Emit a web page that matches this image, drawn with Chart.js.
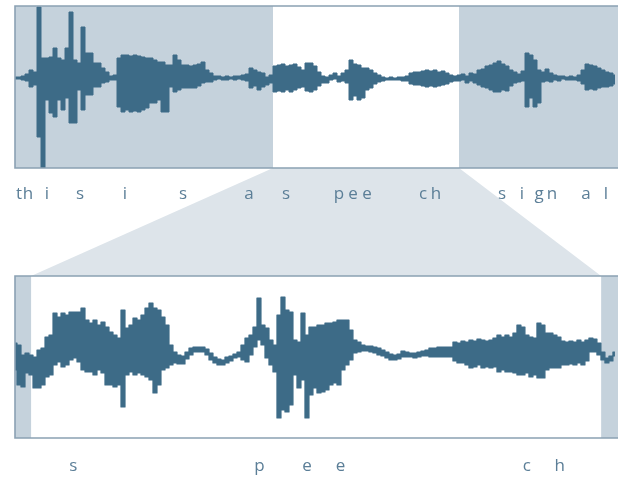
<!DOCTYPE html>
<html><head><meta charset="utf-8">
<script src="https://cdn.jsdelivr.net/npm/chart.js@4.4.1/dist/chart.umd.min.js"></script>
<style>
html,body{margin:0;padding:0;background:#fff;width:618px;height:477px;overflow:hidden;}
#wrapTop{position:absolute;left:0;top:0;width:618px;height:230px;z-index:2;}
#wrapBot{position:absolute;left:0;top:160px;width:618px;height:317px;z-index:1;}
canvas{display:block;}
</style></head><body>
<div id="wrapBot"><canvas id="bot" width="618" height="317"></canvas></div>
<div id="wrapTop"><canvas id="top" width="618" height="230"></canvas></div>
<script>
// ---- time axis (ms) ----
const TOP_START_MS = 0, TOP_END_MS = 2412, TOP_STEP_MS = 16;
const BOT_START_MS = 1011, BOT_END_MS = 1798, BOT_STEP_MS = 5.22;
const zoomWindow = [1032, 1776];

// ---- full utterance: envelope (upper / lower peak) per sample ----
const topHi = [1,1,2,4,8,6,71,20,20,21,
  30,20,18,30,66,18,15,51,25,25,
  15,15,10,6,2,3,20,23,23,22,
  23,22,21,20,20,18,16,16,13,13,
  23,18,13,13,12,13,14,16,8,5,
  2,2,1,2,1,2,2,3,4,10,
  8,6,5,1,3,12,13,14,12,13,
  14,11,8,15,15,12,6,2,1,3,
  5,2,5,8,18,14,13,10,10,8,
  5,3,1,0,1,0,1,1,2,5,
  6,6,7,8,7,8,6,7,5,3,
  2,3,4,2,5,4,8,9,12,13,
  15,17,14,12,8,6,4,7,25,23,
  18,8,6,9,5,3,2,2,1,2,
  1,3,8,14,13,12,10,8,6,5,
  3];
const topLo = [-1,-1,-2,-3,-9,-7,-59,-90,-22,-35,
  -39,-22,-32,-20,-45,-45,-12,-32,-17,-17,
  -9,-9,-5,-4,-2,-2,-29,-34,-32,-34,
  -33,-34,-32,-30,-25,-25,-22,-34,-34,-9,
  -14,-12,-10,-10,-10,-10,-8,-5,-4,-4,
  -2,-1,-2,-2,-1,-2,-1,-2,-3,-10,
  -8,-12,-9,-7,-5,-14,-13,-14,-12,-14,
  -12,-10,-9,-13,-14,-12,-8,-5,-5,-2,
  -1,-4,-3,-5,-22,-18,-22,-20,-12,-10,
  -6,-4,-3,-2,-2,-2,-2,-3,-3,-6,
  -7,-7,-8,-9,-8,-9,-8,-7,-6,-4,
  -3,-3,-2,-5,-3,-5,-7,-9,-10,-12,
  -14,-14,-12,-13,-8,-5,-4,-3,-29,-20,
  -29,-25,-4,-3,-4,-2,-3,-1,-2,-2,
  -2,-3,-6,-12,-11,-12,-10,-9,-9,-8,
  -6];

// ---- zoomed segment "speech" ----
const botHi = [12,10,0,2,0,-2,5,7,18,20,
  42,38,42,40,43,43,43,47,35,32,
  35,30,33,28,23,20,17,45,27,30,
  37,35,40,47,52,47,45,38,30,10,
  3,0,-1,3,7,8,8,8,6,2,
  -2,-4,-5,-2,-1,1,3,10,17,20,
  28,57,30,27,15,10,40,58,45,43,
  15,13,42,20,28,28,30,30,32,32,
  33,35,35,35,25,15,13,10,9,9,
  8,7,5,3,1,0,1,4,3,2,
  2,3,4,5,7,7,8,8,8,8,
  13,12,14,13,15,14,16,15,14,15,
  17,20,18,20,18,22,30,28,20,18,
  17,32,30,22,22,20,18,14,13,14,
  13,15,13,15,17,16,12,3,-3,-1,
  3];
const botLo = [-15,-30,-32,-18,-20,-33,-33,-30,-22,-20,
  -10,-7,-12,-10,-5,-3,-7,-15,-17,-17,
  -20,-15,-18,-30,-30,-32,-30,-52,-20,-17,
  -20,-18,-20,-22,-25,-38,-30,-15,-13,-10,
  -8,-9,-9,-4,0,3,3,3,0,-5,
  -8,-10,-10,-8,-6,-3,-2,-5,-7,0,
  8,15,10,-3,-10,-17,-63,-55,-57,-50,
  -20,-33,-25,-63,-40,-33,-38,-37,-35,-30,
  -28,-30,-15,-10,-5,2,3,4,4,3,
  2,0,-1,-3,-5,-5,-4,-2,-2,-2,
  -3,-2,-1,-1,-2,-2,-2,-2,-2,-2,
  -6,-8,-8,-10,-13,-12,-10,-13,-12,-13,
  -12,-17,-15,-17,-17,-18,-20,-20,-18,-22,
  -20,-23,-23,-15,-13,-13,-13,-10,-10,-9,
  -10,-8,-10,-6,3,3,0,-5,-8,-6,
  -1];

// ---- letter labels aligned to time ----
const topLetters = ['t','h','i','s','i','s','a','s','p','e','e','c','h','s','i','g','n','a','l'];
const topLetterMs = [16,52,128,260,440,672,936,1084,1296,1352,1408,1632,1684,1948,2028,2096,2148,2284,2364];
const botLetters = ['s','p','e','e','c','h'];
const botLetterMs = [1087,1330,1392,1436,1679,1722];

const WAVE = '#3d6b87', SHADE = '#c5d2dc', FRAME = '#8aa1b3', WEDGE = '#dde4ea', TEXT = '#5b7e97';
const TOP_CANVAS_Y = 0, BOT_CANVAS_Y = 160;

function envelope(vals, start, step) {
  return vals.map((v, i) => ({x: start + i * step, y: v}));
}

const panelPlugin = {
  id: 'panel',
  beforeDatasetsDraw(chart) {
    const {ctx, chartArea: a, scales: {x}} = chart;
    const x0 = x.getPixelForValue(zoomWindow[0]), x1 = x.getPixelForValue(zoomWindow[1]);
    ctx.save();
    ctx.fillStyle = SHADE;
    ctx.fillRect(a.left, a.top, Math.max(0, x0 - a.left), a.bottom - a.top);
    ctx.fillRect(x1, a.top, Math.max(0, a.right - x1), a.bottom - a.top);
    ctx.restore();
  },
  afterDatasetsDraw(chart) {
    const {ctx, chartArea: a} = chart;
    ctx.save();
    ctx.strokeStyle = FRAME;
    ctx.lineWidth = 1.6;
    ctx.beginPath();
    ctx.moveTo(a.right + 2, a.top); ctx.lineTo(a.left, a.top);
    ctx.lineTo(a.left, a.bottom); ctx.lineTo(a.right + 2, a.bottom);
    ctx.stroke();
    ctx.restore();
  }
};

function letterAxis(min, max, letters, positions, height, pad) {
  return {
    type: 'linear', position: 'bottom', min, max,
    grid: {display: false, drawTicks: false}, border: {display: false},
    afterBuildTicks: s => { s.ticks = positions.map(v => ({value: v})); },
    afterFit: s => { s.height = height; s.paddingLeft = 0; s.paddingRight = 0; },
    ticks: {
      autoSkip: false, maxRotation: 0, minRotation: 0, padding: pad,
      color: TEXT, font: {family: "'Open Sans', sans-serif", size: 17},
      callback: (v, i) => letters[i]
    }
  };
}

const baseOpts = {
  responsive: false, animation: false, devicePixelRatio: 1,
  plugins: {legend: {display: false}, tooltip: {enabled: false}},
  elements: {point: {radius: 0}, line: {tension: 0, borderJoinStyle: 'round'}}
};

function waveSets(hi, lo, start, step, stepped, bw) {
  return [
    {data: envelope(hi, start, step), borderColor: WAVE, backgroundColor: WAVE, borderWidth: bw, fill: '+1', stepped},
    {data: envelope(lo, start, step), borderColor: WAVE, borderWidth: bw, fill: false, stepped}
  ];
}

const topChart = new Chart(document.getElementById('top'), {
  type: 'line',
  data: {datasets: waveSets(topHi, topLo, TOP_START_MS, TOP_STEP_MS, 'middle', 1)},
  options: Object.assign({}, baseOpts, {
    layout: {padding: {top: 6, left: 15, right: 0, bottom: 0}},
    scales: {
      x: letterAxis(TOP_START_MS, TOP_END_MS, topLetters, topLetterMs, 62, 16),
      y: {display: false, min: -90, max: 72}
    }
  }),
  plugins: [panelPlugin]
});

const wedgePlugin = {
  id: 'wedge',
  beforeDraw(chart) {
    const {ctx, chartArea: a, scales: {x}} = chart;
    const tx = topChart.scales.x;
    const ty = topChart.chartArea.bottom + TOP_CANVAS_Y - BOT_CANVAS_Y;
    ctx.save();
    ctx.fillStyle = WEDGE;
    ctx.beginPath();
    ctx.moveTo(tx.getPixelForValue(zoomWindow[0]), ty);
    ctx.lineTo(tx.getPixelForValue(zoomWindow[1]), ty);
    ctx.lineTo(x.getPixelForValue(zoomWindow[1]), a.top);
    ctx.lineTo(x.getPixelForValue(zoomWindow[0]), a.top);
    ctx.closePath();
    ctx.fill();
    ctx.restore();
  }
};

new Chart(document.getElementById('bot'), {
  type: 'line',
  data: {datasets: waveSets(botHi, botLo, BOT_START_MS, BOT_STEP_MS, 'middle', 1.2)},
  options: Object.assign({}, baseOpts, {
    layout: {padding: {top: 116, left: 15, right: 0, bottom: 0}},
    scales: {
      x: letterAxis(BOT_START_MS, BOT_END_MS, botLetters, botLetterMs, 39, 18),
      y: {display: false, min: -83, max: 79}
    }
  }),
  plugins: [wedgePlugin, panelPlugin]
});
</script>
</body></html>
